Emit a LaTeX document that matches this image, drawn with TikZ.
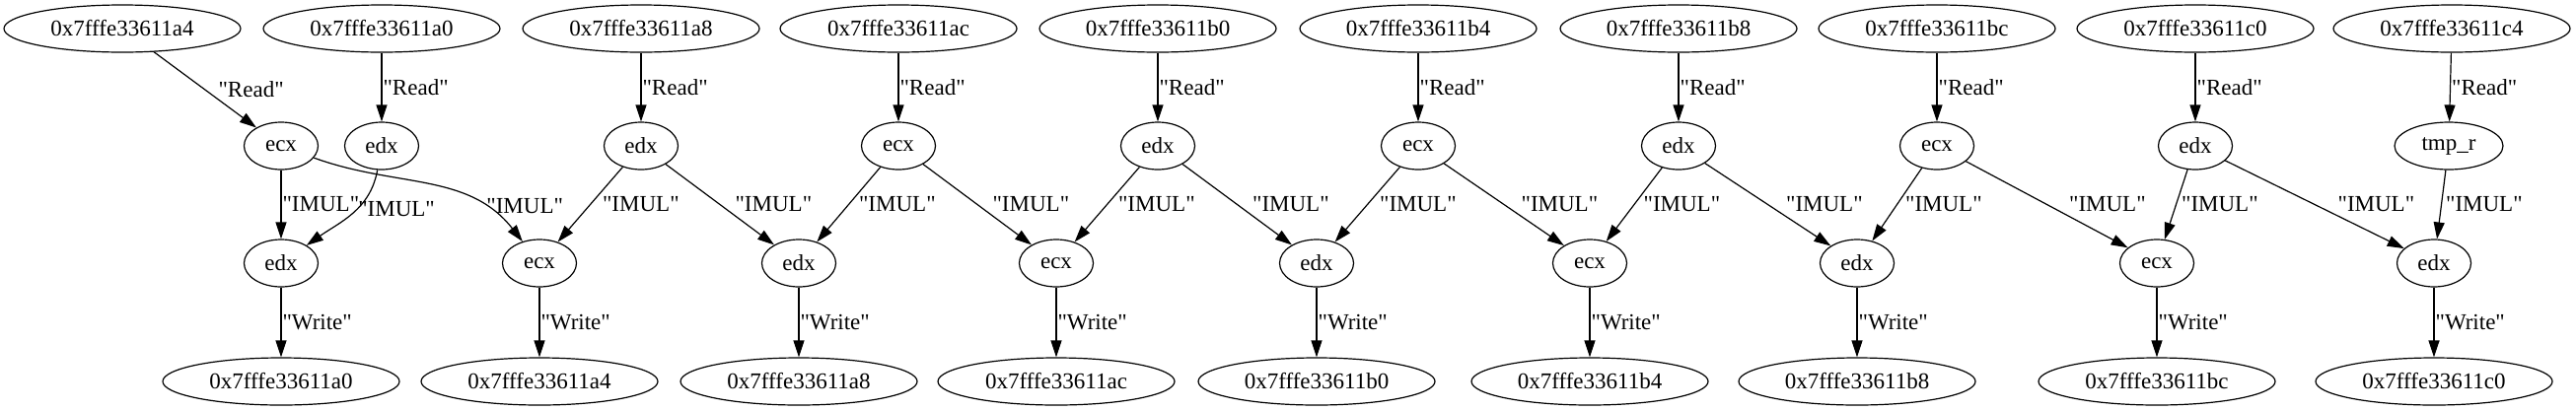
\documentclass[tikz,border=0pt]{standalone}
\usepackage{fontspec}
\setmainfont{Liberation Serif}
\usetikzlibrary{arrows.meta,shapes.geometric}

\newcommand\dq[1]{\textquotedbl#1\textquotedbl}

\tikzset{
  addr/.style={draw,ellipse,line width=1.2pt,minimum width=240pt,minimum height=48pt,inner sep=0pt},
  reg/.style={draw,ellipse,line width=1.2pt,minimum width=75pt,minimum height=48pt,inner sep=0pt},
  edge/.style={-{Triangle[length=17pt,width=11pt]},line width=1.2pt},
  lbl/.style={anchor=west,inner sep=1pt},
}

\begin{document}
\begin{tikzpicture}[x=1pt,y=-1pt,font=\fontsize{23}{28}\selectfont]
\useasboundingbox (0,0) rectangle (2612,416);

% memory read
\node[addr] (ra4) at (124,29) {0x7fffe33611a4};
\node[addr] (ra0) at (387,29) {0x7fffe33611a0};
\node[addr] (ra8) at (650,29) {0x7fffe33611a8};
\node[addr] (rac) at (911,29) {0x7fffe33611ac};
\node[addr] (rb0) at (1174,29) {0x7fffe33611b0};
\node[addr] (rb4) at (1438,29) {0x7fffe33611b4};
\node[addr] (rb8) at (1702,29) {0x7fffe33611b8};
\node[addr] (rbc) at (1964,29) {0x7fffe33611bc};
\node[addr] (rc0) at (2226,29) {0x7fffe33611c0};
\node[addr] (rc4) at (2486,29) {0x7fffe33611c4};

% loaded registers
\node[reg] (ecx1) at (285,148) {ecx};
\node[reg] (edx1) at (387,148) {edx};
\node[reg] (edx2) at (650,148) {edx};
\node[reg] (ecx3) at (911,148) {ecx};
\node[reg] (edx4) at (1174,148) {edx};
\node[reg] (ecx5) at (1438,148) {ecx};
\node[reg] (edx6) at (1702,148) {edx};
\node[reg] (ecx7) at (1964,148) {ecx};
\node[reg] (edx8) at (2226,148) {edx};
\node[reg,minimum width=110pt] (tmpr) at (2483,148) {tmp\_r};

% products
\node[reg] (pedx1) at (285,267) {edx};
\node[reg] (pecx2) at (547,267) {ecx};
\node[reg] (pedx3) at (810,267) {edx};
\node[reg] (pecx4) at (1071,267) {ecx};
\node[reg] (pedx5) at (1335,267) {edx};
\node[reg] (pecx6) at (1612,267) {ecx};
\node[reg] (pedx7) at (1883,267) {edx};
\node[reg] (pecx8) at (2187,267) {ecx};
\node[reg] (pedx9) at (2468,267) {edx};

% memory write
\node[addr] (wa0) at (285,387) {0x7fffe33611a0};
\node[addr] (wa4) at (547,387) {0x7fffe33611a4};
\node[addr] (wa8) at (810,387) {0x7fffe33611a8};
\node[addr] (wac) at (1071,387) {0x7fffe33611ac};
\node[addr] (wb0) at (1335,387) {0x7fffe33611b0};
\node[addr] (wb4) at (1612,387) {0x7fffe33611b4};
\node[addr] (wb8) at (1883,387) {0x7fffe33611b8};
\node[addr] (wbc) at (2187,387) {0x7fffe33611bc};
\node[addr] (wc0) at (2468,387) {0x7fffe33611c0};

\draw[edge] (ra4) -- node[lbl,xshift=12pt] {\dq{Read}} (ecx1);
\draw[edge] (ra0) -- node[lbl] {\dq{Read}} (edx1);
\draw[edge] (ra8) -- node[lbl] {\dq{Read}} (edx2);
\draw[edge] (rac) -- node[lbl] {\dq{Read}} (ecx3);
\draw[edge] (rb0) -- node[lbl] {\dq{Read}} (edx4);
\draw[edge] (rb4) -- node[lbl] {\dq{Read}} (ecx5);
\draw[edge] (rb8) -- node[lbl] {\dq{Read}} (edx6);
\draw[edge] (rbc) -- node[lbl] {\dq{Read}} (ecx7);
\draw[edge] (rc0) -- node[lbl] {\dq{Read}} (edx8);
\draw[edge] (rc4) -- node[lbl] {\dq{Read}} (tmpr);

\draw[edge] (ecx1) -- node[lbl] {\dq{IMUL}} (pedx1);
\draw[edge] (edx1) to[out=-100,in=35] node[lbl,xshift=5pt,yshift=5pt] {\dq{IMUL}} (pedx1);
\draw[edge] (ecx1) to[out=-20,in=128] node[lbl,xshift=57pt,yshift=-21pt] {\dq{IMUL}} (pecx2);
\draw[edge] (edx2) -- node[lbl,xshift=11pt] {\dq{IMUL}} (pecx2);
\draw[edge] (edx2) -- node[lbl,xshift=14pt] {\dq{IMUL}} (pedx3);
\draw[edge] (ecx3) -- node[lbl,xshift=9pt] {\dq{IMUL}} (pedx3);
\draw[edge] (ecx3) -- node[lbl,xshift=14pt] {\dq{IMUL}} (pecx4);
\draw[edge] (edx4) -- node[lbl,xshift=10pt] {\dq{IMUL}} (pecx4);
\draw[edge] (edx4) -- node[lbl,xshift=14pt] {\dq{IMUL}} (pedx5);
\draw[edge] (ecx5) -- node[lbl,xshift=11pt] {\dq{IMUL}} (pedx5);
\draw[edge] (ecx5) -- node[lbl,xshift=16pt] {\dq{IMUL}} (pecx6);
\draw[edge] (edx6) -- node[lbl,xshift=8pt] {\dq{IMUL}} (pecx6);
\draw[edge] (edx6) -- node[lbl,xshift=17pt] {\dq{IMUL}} (pedx7);
\draw[edge] (ecx7) -- node[lbl,xshift=7pt] {\dq{IMUL}} (pedx7);
\draw[edge] (ecx7) -- node[lbl,xshift=21pt] {\dq{IMUL}} (pecx8);
\draw[edge] (edx8) -- node[lbl,xshift=4pt] {\dq{IMUL}} (pecx8);
\draw[edge] (edx8) -- node[lbl,xshift=22pt] {\dq{IMUL}} (pedx9);
\draw[edge] (tmpr) -- node[lbl,xshift=3pt] {\dq{IMUL}} (pedx9);

\draw[edge] (pedx1) -- node[lbl] {\dq{Write}} (wa0);
\draw[edge] (pecx2) -- node[lbl] {\dq{Write}} (wa4);
\draw[edge] (pedx3) -- node[lbl] {\dq{Write}} (wa8);
\draw[edge] (pecx4) -- node[lbl] {\dq{Write}} (wac);
\draw[edge] (pedx5) -- node[lbl] {\dq{Write}} (wb0);
\draw[edge] (pecx6) -- node[lbl] {\dq{Write}} (wb4);
\draw[edge] (pedx7) -- node[lbl] {\dq{Write}} (wb8);
\draw[edge] (pecx8) -- node[lbl] {\dq{Write}} (wbc);
\draw[edge] (pedx9) -- node[lbl] {\dq{Write}} (wc0);
\end{tikzpicture}
\end{document}
